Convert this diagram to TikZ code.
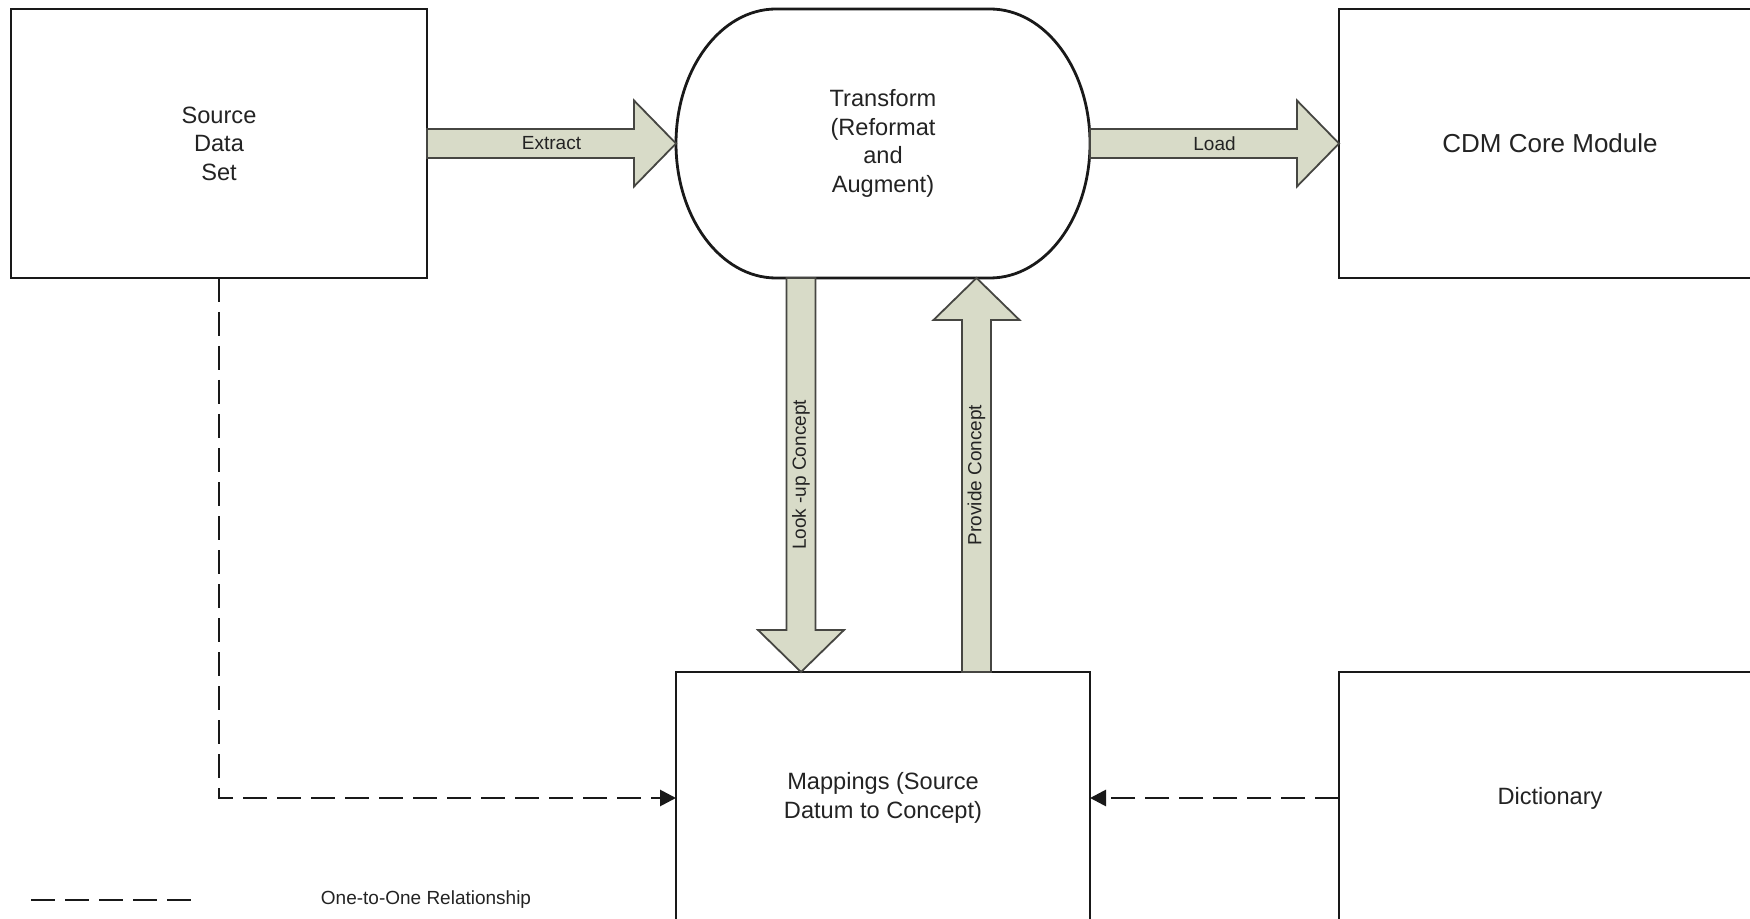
\documentclass[tikz,border=0pt]{standalone}
\usepackage{fontspec}
\setmainfont{Liberation Sans}
\usetikzlibrary{positioning}
\usetikzlibrary{calc}
\usetikzlibrary{arrows.meta}

\definecolor{arrowfill}{RGB}{216,219,200}
\definecolor{arrowline}{RGB}{70,70,66}
\definecolor{boxline}{RGB}{25,25,25}
\definecolor{txt}{RGB}{35,35,35}

% block arrow from #1 to #2
\newcommand{\fatarrow}[2]{%
	\coordinate (neck) at ($(#2)!21pt!(#1)$);
	\draw[fat] ($(#1)!7.25pt!90:(#2)$) -- ($(neck)!7.25pt!90:(#2)$)
		-- ($(neck)!21.5pt!90:(#2)$) -- (#2)
		-- ($(neck)!21.5pt!-90:(#2)$) -- ($(neck)!7.25pt!-90:(#2)$)
		-- ($(#1)!7.25pt!-90:(#2)$) -- cycle;}

\begin{document}
\begin{tikzpicture}
		[x=0.5pt, y=0.5pt, node distance=124.5pt,
		box/.style={draw=boxline, line width=1.4pt, outer sep=0pt, minimum width=208pt, minimum height=134.5pt, align=center, text=txt, font=\fontsize{11.8}{14.2}\selectfont},
		fat/.style={fill=arrowfill, draw=arrowline, line width=0.9pt, line join=miter},
		lbl/.style={font=\fontsize{9.5}{11}\selectfont, text=txt, inner sep=0pt},
		rel/.style={draw=boxline, line width=1.4pt, dash pattern=on 12pt off 5pt, -{Triangle[length=8pt,width=8pt]}}]
		\useasboundingbox (0,0) rectangle (1750,-919);

		\node[box] (src) at (219,-143.5) {Source\\Data\\Set};
		\node[box, draw=none, minimum width=207pt, right=of src] (tr) {Transform\\(Reformat\\and\\Augment)};
		\node[box, minimum width=211pt, right=of tr, font=\fontsize{13}{15}\selectfont] (cdm) {CDM Core Module};
		\node[box, minimum width=207pt, minimum height=126pt, below=197pt of tr] (map) {Mappings (Source\\Datum to Concept)};
		\node[box, minimum width=211pt, minimum height=126pt, below=197pt of cdm] (dict) {Dictionary};

		% outline of the transform step
		\draw[draw=boxline, line width=1.4pt] ([xshift=50pt]tr.north west) -- ([xshift=-50pt]tr.north east)
			arc[start angle=90, end angle=-90, x radius=50pt, y radius=67.25pt]
			-- ([xshift=50pt]tr.south west)
			arc[start angle=270, end angle=90, x radius=50pt, y radius=67.25pt] -- cycle;

		\fatarrow{src.east}{tr.west}
		\fatarrow{tr.east}{cdm.west}
		\coordinate (lutop) at ([xshift=-41pt]tr.south);
		\coordinate (lubot) at (lutop |- map.north);
		\fatarrow{lutop}{lubot}
		\coordinate (pvtop) at ([xshift=46.75pt]tr.south);
		\coordinate (pvbot) at (pvtop |- map.north);
		\fatarrow{pvbot}{pvtop}

		\node[lbl] (extract) at ($(src.east)!.5!(tr.west)$) {Extract};
		\node[lbl] (load) at ($(tr.east)!.5!(cdm.west)$) {Load};
		\node[lbl, rotate=90] (lookup) at ($(lutop)!.5!(lubot)$) {Look -up Concept};
		\node[lbl, rotate=90] (provide) at ($(pvtop)!.5!(pvbot)$) {Provide Concept};

		\draw[rel] (src.south) |- (map.west);
		\draw[rel] (dict.west) -- (map.east);

		% legend
		\coordinate (legA) at (31,-900);
		\coordinate (legB) at (195,-900);
		\draw[rel, -] (legA) -- (legB);
		\node[lbl] (legend) at (426,-900) {One-to-One Relationship};
	\end{tikzpicture}
\end{document}
